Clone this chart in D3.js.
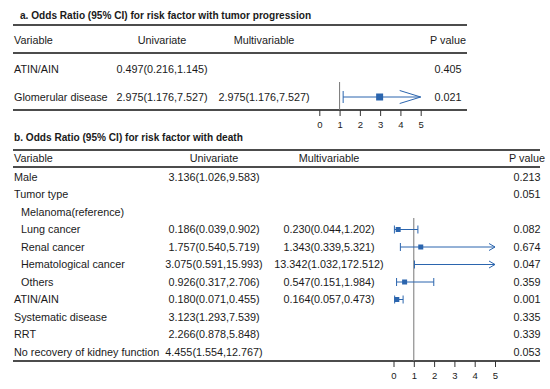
<!DOCTYPE html>
<html>
<head>
<meta charset="utf-8">
<script src="https://cdn.jsdelivr.net/npm/d3@7"></script>
<style>
  body { margin: 0; background: #fff; }
  text { font-family: "Liberation Sans", Arial, sans-serif; fill: #1a1a1a; }
</style>
</head>
<body>
<script>
// ---- panel a: tumor progression ----
const aTitle = 'a.  Odds Ratio (95% CI) for risk factor with tumor progression';
const aVariables = ['ATIN/AIN', 'Glomerular disease'];
const aUniOR = [0.497, 2.975];
const aUniLo = [0.216, 1.176];
const aUniHi = [1.145, 7.527];
const aMultiOR = [null, 2.975];
const aMultiLo = [null, 1.176];
const aMultiHi = [null, 7.527];
const aP = ['0.405', '0.021'];

// ---- panel b: death ----
const bTitle = 'b. Odds Ratio (95% CI) for risk factor with death';
const bVariables = ['Male', 'Tumor type', 'Melanoma(reference)', 'Lung cancer', 'Renal cancer',
  'Hematological cancer', 'Others', 'ATIN/AIN', 'Systematic disease', 'RRT', 'No recovery of kidney function'];
const bIndent = [0, 0, 1, 1, 1, 1, 1, 0, 0, 0, 0];
const bUniOR = [3.136, null, null, 0.186, 1.757, 3.075, 0.926, 0.180, 3.123, 2.266, 4.455];
const bUniLo = [1.026, null, null, 0.039, 0.540, 0.591, 0.317, 0.071, 1.293, 0.878, 1.554];
const bUniHi = [9.583, null, null, 0.902, 5.719, 15.993, 2.706, 0.455, 7.539, 5.848, 12.767];
const bMultiOR = [null, null, null, 0.230, 1.343, 13.342, 0.547, 0.164, null, null, null];
const bMultiLo = [null, null, null, 0.044, 0.339, 1.032, 0.151, 0.057, null, null, null];
const bMultiHi = [null, null, null, 1.202, 5.321, 172.512, 1.984, 0.473, null, null, null];
const bP = ['0.213', '0.051', '', '0.082', '0.674', '0.047', '0.359', '0.001', '0.335', '0.339', '0.053'];

const headers = ['Variable', 'Univariate', 'Multivariable', 'P value'];
const axisTicks = [0, 1, 2, 3, 4, 5];
const blue = '#2b65ae';
const fs = '10.8px';

const svg = d3.select('body').append('svg')
  .attr('width', 550)
  .attr('height', 389);

function fmt(or, lo, hi) {
  if (or == null) return '';
  return or.toFixed(3) + '(' + lo.toFixed(3) + ',' + hi.toFixed(3) + ')';
}

function drawPanel(p) {
  const g = svg.append('g');
  const n = p.vars.length;
  const y = d3.scaleLinear().domain([0, n - 1]).range([p.rowTop, p.rowTop + (n - 1) * p.step]);
  const x = d3.scaleLinear().domain([0, 5]).range(p.xRange);

  g.append('text').attr('x', p.titleX).attr('y', p.titleY)
    .style('font-weight', 'bold').style('font-size', '10.1px').text(p.title);

  // rules
  [p.ruleTop, p.ruleHead, p.ruleBottom].forEach((ry, i) => {
    g.append('line').attr('x1', 13).attr('x2', p.right).attr('y1', ry).attr('y2', ry)
      .attr('stroke', '#111').attr('stroke-width', 1.7);
  });

  // headers
  const hx = [14, p.uniX, p.multiX, p.pX];
  const anchors = ['start', 'middle', 'middle', 'middle'];
  g.selectAll('.hdr').data(headers).enter().append('text')
    .attr('x', (d, i) => hx[i]).attr('y', p.headY).attr('dy', '0.35em')
    .attr('text-anchor', (d, i) => anchors[i])
    .style('font-size', fs).text(d => d);

  const rows = g.selectAll('.row').data(p.vars.map((v, i) => i)).enter().append('g')
    .attr('transform', i => 'translate(0,' + y(i) + ')');

  rows.append('text').attr('x', i => p.indent[i] ? 21 : 14).attr('dy', '0.35em')
    .style('font-size', fs).text(i => p.vars[i]);
  rows.append('text').attr('x', p.uniX).attr('dy', '0.35em').attr('text-anchor', 'middle')
    .style('font-size', fs).text(i => fmt(p.uniOR[i], p.uniLo[i], p.uniHi[i]));
  rows.append('text').attr('x', p.multiX).attr('dy', '0.35em').attr('text-anchor', 'middle')
    .style('font-size', fs).text(i => fmt(p.multiOR[i], p.multiLo[i], p.multiHi[i]));
  rows.append('text').attr('x', p.pX).attr('dy', '0.35em').attr('text-anchor', 'middle')
    .style('font-size', fs).text(i => p.pv[i]);

  // reference line at OR = 1
  const plotted = p.vars.map((v, i) => i).filter(i => p.multiOR[i] != null);
  g.append('line').attr('x1', x(1)).attr('x2', x(1))
    .attr('y1', y(plotted[0]) - p.refPad).attr('y2', p.ruleBottom)
    .attr('stroke', '#777').attr('stroke-width', 1);

  // forest marks (multivariable)
  const f = g.selectAll('.ci').data(plotted).enter().append('g')
    .attr('transform', i => 'translate(0,' + y(i) + ')')
    .attr('stroke', blue).attr('fill', 'none').attr('stroke-width', 1);
  const xmax = x.domain()[1];
  f.append('line')
    .attr('x1', i => x(p.multiLo[i])).attr('x2', i => x(Math.min(p.multiHi[i], xmax)));
  f.append('line').attr('x1', i => x(p.multiLo[i])).attr('x2', i => x(p.multiLo[i]))
    .attr('y1', -p.cap).attr('y2', p.cap);
  f.filter(i => p.multiHi[i] <= xmax).append('line')
    .attr('x1', i => x(p.multiHi[i])).attr('x2', i => x(p.multiHi[i]))
    .attr('y1', -p.cap).attr('y2', p.cap);
  f.filter(i => p.multiHi[i] > xmax).append('path')
    .attr('d', 'M' + (x(xmax) - p.arrowL) + ',' + (-p.arrowH) + 'L' + x(xmax) + ',0L' + (x(xmax) - p.arrowL) + ',' + p.arrowH);
  f.filter(i => p.multiOR[i] <= xmax).append('rect')
    .attr('x', i => x(p.multiOR[i]) - p.sq / 2).attr('y', -p.sq / 2)
    .attr('width', p.sq).attr('height', p.sq).attr('fill', blue).attr('stroke', 'none');

  // axis
  const ax = g.append('g').attr('transform', 'translate(0,' + p.ruleBottom + ')')
    .call(d3.axisBottom(x).tickValues(axisTicks).tickSize(6).tickPadding(5).tickFormat(d3.format('d')));
  ax.select('.domain').remove();
  ax.selectAll('line').attr('stroke', '#333');
  ax.selectAll('text').style('font-size', '9.5px').style('font-family', '"Liberation Sans", Arial, sans-serif').attr('fill', '#1a1a1a');
}

drawPanel({
  title: aTitle, titleX: 20, titleY: 19,
  vars: aVariables, indent: [0, 0],
  uniOR: aUniOR, uniLo: aUniLo, uniHi: aUniHi,
  multiOR: aMultiOR, multiLo: aMultiLo, multiHi: aMultiHi, pv: aP,
  rowTop: 69, step: 28, headY: 40,
  ruleTop: 25, ruleHead: 53, ruleBottom: 110, right: 467,
  uniX: 162, multiX: 264, pX: 448,
  xRange: [319.3, 420.7], refPad: 15,
  cap: 6, sq: 7, arrowL: 21, arrowH: 6.5
});

drawPanel({
  title: bTitle, titleX: 14, titleY: 141,
  vars: bVariables, indent: bIndent,
  uniOR: bUniOR, uniLo: bUniLo, uniHi: bUniHi,
  multiOR: bMultiOR, multiLo: bMultiLo, multiHi: bMultiHi, pv: bP,
  rowTop: 177, step: 17.5, headY: 158,
  ruleTop: 150, ruleHead: 167, ruleBottom: 361, right: 540,
  uniX: 214, multiX: 329, pX: 527,
  xRange: [393.5, 495], refPad: 11.5,
  cap: 4, sq: 5, arrowL: 6, arrowH: 3.5
});
</script>
</body>
</html>
